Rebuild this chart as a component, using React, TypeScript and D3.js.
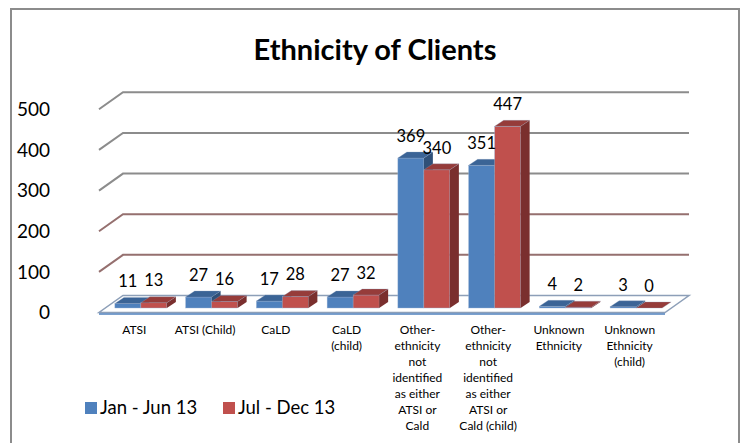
import React from "react";
import * as d3 from "d3";

const categories = [
  "ATSI",
  "ATSI (Child)",
  "CaLD",
  "CaLD\n(child)",
  "Other-\nethnicity\nnot\nidentified\nas either\nATSI or\nCald",
  "Other-\nethnicity\nnot\nidentified\nas either\nATSI or\nCald (child)",
  "Unknown\nEthnicity",
  "Unknown\nEthnicity\n(child)",
];
const janJun = [11, 27, 17, 27, 369, 351, 4, 3];
const julDec = [13, 16, 28, 32, 340, 447, 2, 0];
const yTicks = [0, 100, 200, 300, 400, 500];
const seriesNames = ["Jan - Jun 13", "Jul - Dec 13"];

const FONT = "Lato, 'Open Sans', sans-serif";
const colors = [
  { front: "#4F81BD", top: "#3B6496", side: "#2F5078" },
  { front: "#C0504D", top: "#963C3A", side: "#7A2F2E" },
];

// perspective offsets
const DX = 24;
const DY = -17;
const barDX = 9;
const barDY = -6;
const barShiftX = 6.5;
const barShiftY = -4.5;

const App = () => {
  const x = d3.scaleBand().domain(categories).range([99, 665]);
  const y = d3.scaleLinear().domain([0, 500]).range([312.5, 109.3]);
  const barW = 26;

  const bar = (x0: number, v: number, c: typeof colors[0], key: string) => {
    const yb = y(0) + barShiftY;
    const yt = y(v) + barShiftY;
    const x1 = x0 + barW;
    const top = `M${x0},${yt} L${x1},${yt} L${x1 + barDX},${yt + barDY} L${x0 + barDX},${yt + barDY} Z`;
    const side = `M${x1},${yt} L${x1 + barDX},${yt + barDY} L${x1 + barDX},${yb + barDY} L${x1},${yb} Z`;
    return (
      <g key={key}>
        {v > 0 && <rect x={x0} y={yt} width={barW} height={yb - yt} fill={c.front} stroke="#9DB5D6" strokeWidth={0.4} />}
        {v > 0 && <path d={side} fill={c.side} />}
        <path d={top} fill={c.top} stroke="#8aa0c0" strokeWidth={0.3} />
      </g>
    );
  };

  const x0 = x(categories[0])!;
  const xEnd = x0 + x.bandwidth() * categories.length;

  return (
    <div style={{ position: "absolute", left: 0, top: 0 }}>
      <svg width={744} height={443} style={{ display: "block", background: "#fff" }}>
        <rect x={11} y={9} width={728} height={450} fill="#fff" stroke="#8c8c8c" strokeWidth={2} />
        <text x={375} y={60} textAnchor="middle" fontFamily={FONT} fontWeight="bold" fontSize={29} fill="#000">
          Ethnicity of Clients
        </text>

        {/* floor */}
        <path
          d={`M${x0},${y(0)} L${xEnd},${y(0)} L${xEnd + DX},${y(0) + DY} L${x0 + DX},${y(0) + DY} Z`}
          fill="#fff"
          stroke="#8d9fb8"
          strokeWidth={1.5}
        />
        <line x1={x0} x2={xEnd} y1={y(0) + 1.5} y2={y(0) + 1.5} stroke="#4F81BD" strokeWidth={1.5} />

        {/* gridlines */}
        {yTicks.filter((t) => t > 0).map((t) => (
          <g key={t} stroke={t <= 200 ? "#95706f" : "#8c8c8c"} strokeWidth={2} fill="none">
            <path d={`M${x0},${y(t)} L${x0 + DX},${y(t) + DY} L${xEnd + DX},${y(t) + DY}`} />
          </g>
        ))}

        {/* y axis labels */}
        {yTicks.map((t) => (
          <text key={t} x={50} y={y(t)} dy="0.35em" textAnchor="end" fontFamily={FONT} fontSize={19} fill="#000">
            {t}
          </text>
        ))}

        {/* bars */}
        {categories.map((cat, i) => {
          const cx = x(cat)! + x.bandwidth() / 2 + barShiftX;
          return (
            <g key={cat}>
              {bar(cx - barW, janJun[i], colors[0], "a")}
              {bar(cx, julDec[i], colors[1], "b")}
            </g>
          );
        })}

        {/* data labels */}
        {categories.map((cat, i) => {
          const cx = x(cat)! + x.bandwidth() / 2 + barShiftX;
          return (
            <g key={cat} fontFamily={FONT} fontSize={16.5} fill="#000" textAnchor="middle">
              <text x={cx - barW / 2} y={y(janJun[i]) + barShiftY - 22} dy="0.35em">{janJun[i]}</text>
              <text x={cx + barW / 2} y={y(julDec[i]) + barShiftY - 22} dy="0.35em">{julDec[i]}</text>
            </g>
          );
        })}

        {/* category labels */}
        {categories.map((cat) => (
          <text key={cat} x={x(cat)! + x.bandwidth() / 2} y={334} textAnchor="middle" fontFamily={FONT} fontSize={12} fill="#000">
            {cat.split("\n").map((line, j) => (
              <tspan key={j} x={x(cat)! + x.bandwidth() / 2} dy={j === 0 ? 0 : 16}>{line}</tspan>
            ))}
          </text>
        ))}

        {/* legend */}
        {seriesNames.map((name, i) => (
          <g key={name} transform={`translate(${i === 0 ? 85 : 223},402)`}>
            <rect width={12} height={12} fill={colors[i].front} />
            <text x={15} y={6} dy="0.35em" fontFamily={FONT} fontSize={18.5} fill="#000">{name}</text>
          </g>
        ))}
      </svg>
    </div>
  );
};

export default App;
